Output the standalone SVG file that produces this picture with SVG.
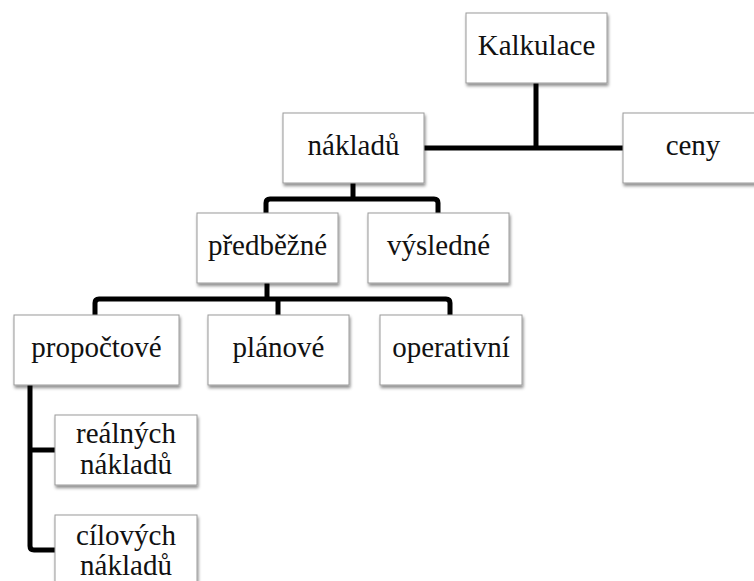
<svg xmlns="http://www.w3.org/2000/svg" width="754" height="581" viewBox="0 0 754 581">
<style>
.box{fill:#fff;stroke:#9a9a9a;stroke-width:1;filter:url(#sh)}
.t{font-family:"Liberation Serif","Times New Roman",serif;font-size:29px;fill:#111;text-anchor:middle}
.c{fill:none;stroke:#000;stroke-width:5;stroke-linejoin:round;stroke-linecap:butt}
</style>
<defs>
<filter id="sh" x="-10%" y="-10%" width="125%" height="135%">
<feDropShadow dx="1" dy="2.5" stdDeviation="1.5" flood-color="#000" flood-opacity="0.45"/>
</filter>
</defs>
<rect width="754" height="581" fill="#fff"/>
<g id="connectors">
<path class="c" d="M536 83 V148"/>
<path class="c" d="M424 148 H623"/>
<path class="c" d="M353 183 V199"/>
<path class="c" d="M266 213 V203 Q266 199 270 199 H434 Q438 199 438 203 V213"/>
<path class="c" d="M267 283 V299"/>
<path class="c" d="M95 315 V303 Q95 299 99 299 H446 Q450 299 450 303 V315"/>
<path class="c" d="M278 299 V315"/>
<path class="c" d="M30 385 V546 Q30 550 34 550 H55"/>
<path class="c" d="M30 450 H55"/>
</g>
<g id="kalkulace"><rect class="box" x="466" y="13" width="141" height="70"/><text class="t" x="536.5" y="55">Kalkulace</text></g>
<g id="ceny"><rect class="box" x="623" y="113" width="141" height="70"/><text class="t" x="693" y="155">ceny</text></g>
<g id="nakladu"><rect class="box" x="283" y="113" width="141" height="70"/><text class="t" x="353.5" y="155">nákladů</text></g>
<g id="predbezne"><rect class="box" x="197" y="213" width="141" height="70"/><text class="t" x="267.5" y="255">předběžné</text></g>
<g id="vysledne"><rect class="box" x="368" y="213" width="141" height="70"/><text class="t" x="438.5" y="255">výsledné</text></g>
<g id="propoctove"><rect class="box" x="14" y="315" width="165" height="70"/><text class="t" x="96.5" y="357">propočtové</text></g>
<g id="planove"><rect class="box" x="208" y="315" width="141" height="70"/><text class="t" x="278.5" y="357">plánové</text></g>
<g id="operativni"><rect class="box" x="380" y="315" width="142" height="70"/><text class="t" x="451" y="357">operativní</text></g>
<g id="realnych"><rect class="box" x="55" y="415" width="142" height="70"/><text class="t" x="126" y="443">reálných</text><text class="t" x="126" y="474">nákladů</text></g>
<g id="cilovych"><rect class="box" x="55" y="515" width="142" height="70"/><text class="t" x="126" y="545">cílových</text><text class="t" x="126" y="575">nákladů</text></g>
</svg>
